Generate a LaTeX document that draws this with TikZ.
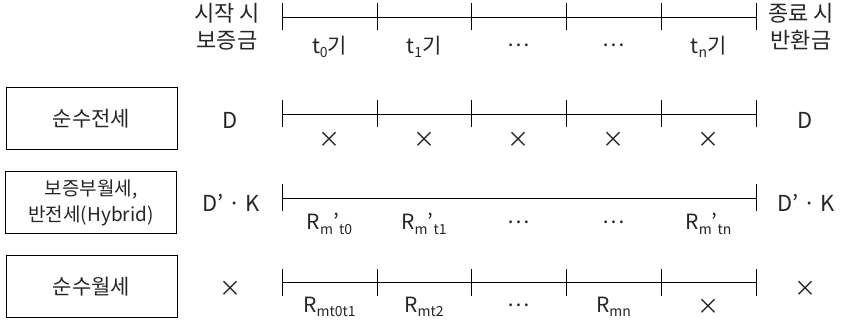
\documentclass[tikz,border=0pt]{standalone}
\usepackage{fontspec}
\setmainfont{Noto Sans CJK KR}
\newcommand{\sbx}[1]{\raisebox{-0.4ex}{\fontsize{14}{14}\selectfont #1}}
\begin{document}
\begin{tikzpicture}[x=1pt,y=-1pt,
  every node/.style={font=\fontsize{22}{27}\selectfont, text=black!85, inner sep=0pt},
  catbox/.style={draw, line width=0.9pt, minimum width=171pt, minimum height=62pt, align=center, font=\fontsize{21}{27}\selectfont},
  tl/.style={line width=0.9pt},
  rl/.style={font=\fontsize{21}{24}\selectfont}]
\useasboundingbox (0,0) rectangle (842,320);
% header
\node[align=center] (hs) at (227,27) {시작 시\\보증금};
\node[align=center] (he) at (801,27) {종료 시\\반환금};
% boxes
\node[catbox] (b1) at (91.5,118.5) {순수전세};
\node[catbox,font=\fontsize{19}{26}\selectfont] (b2) at (91,202.5) {보증부월세,\\반전세(Hybrid)};
\node[catbox] (b3) at (91.5,286.5) {순수월세};
% row values
\node (l1) at (230,120) {D};
\node (r1) at (805,120) {D};
\node (l2) at (231,203) {D’ · K};
\node (r2) at (806,203) {D’ · K};
\node (l3) at (230,289) {×};
\node (r3) at (805,289) {×};
% timeline coordinates
\foreach \r/\y in {0/17,1/114,2/198,3/282}{
  \foreach \i/\x in {0/282,1/377,2/471,3/566,4/661,5/756}{
    \coordinate (t\r-\i) at (\x,\y);
  }
}
% timelines with ticks
\foreach \r/\ticks in {0/{0,1,2,3,4,5},1/{0,1,2,3,4,5},2/{0,5},3/{0,1,2,3,4,5}}{
  \draw[tl] (t\r-0) -- (t\r-5);
  \foreach \i in \ticks { \draw[tl] ([yshift=-13.5pt]t\r-\i) -- ([yshift=13.5pt]t\r-\i); }
}
% row 0 labels
\node[rl] (a1) at (329.5,47) {t\sbx{0}기};
\node[rl] (a2) at (424,47) {t\sbx{1}기};
\node[rl] (a3) at (518.5,45) {⋯};
\node[rl] (a4) at (613.5,45) {⋯};
\node[rl] (a5) at (708.5,47) {t\sbx{n}기};
% row 1 labels
\foreach \x [count=\k] in {329.5,424,518.5,613.5,708.5}{ \node (c\k) at (\x,140) {×}; }
% row 2 labels
\node[rl] (d1) at (329.5,224) {R\sbx{m}’\sbx{t0}};
\node[rl] (d2) at (424,224) {R\sbx{m}’\sbx{t1}};
\node[rl] (d3) at (518.5,222) {⋯};
\node[rl] (d4) at (613.5,222) {⋯};
\node[rl] (d5) at (708.5,224) {R\sbx{m}’\sbx{tn}};
% row 3 labels
\node[rl] (e1) at (329.5,307) {R\sbx{mt0t1}};
\node[rl] (e2) at (424,307) {R\sbx{mt2}};
\node[rl] (e3) at (518.5,305) {⋯};
\node[rl] (e4) at (613.5,307) {R\sbx{mn}};
\node (e5) at (708.5,307) {×};
\end{tikzpicture}
\end{document}
